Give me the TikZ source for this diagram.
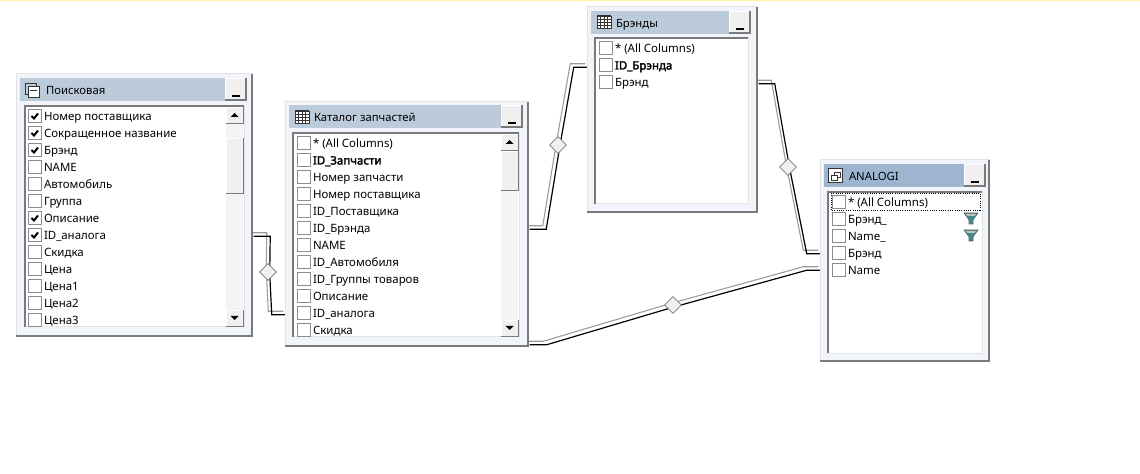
\documentclass[tikz,border=0pt]{standalone}
\usepackage{fontspec}
\setmainfont{Noto Sans}[AutoFakeBold=2.5]
\usetikzlibrary{shapes.geometric}
\usetikzlibrary{backgrounds}
\usetikzlibrary{calc}
\definecolor{panel}{HTML}{F1F5FB}
\definecolor{bandgray}{HTML}{BCCBDA}
\definecolor{bandblue}{HTML}{9DB5D1}
\definecolor{edgedark}{HTML}{7A7A7A}
\definecolor{edgelight}{HTML}{E3E3E3}
\definecolor{face}{HTML}{F0F0F0}
\definecolor{track}{HTML}{F4F4F4}
\definecolor{linegray}{HTML}{9A9A9A}
\definecolor{funnelteal}{HTML}{3E8C8E}
\definecolor{topstrip}{HTML}{FFF2A8}
\tikzstyle{every node}=[inner sep=0pt, outer sep=0pt, anchor=north west]
\tikzstyle{winbox} = [rectangle, fill=panel, draw=edgelight, line width=0.75pt]
\tikzstyle{listbox} = [rectangle, fill=white, draw=edgelight, line width=0.75pt]
\tikzstyle{band} = [rectangle]
\tikzstyle{btn} = [rectangle, fill=face, draw=white, line width=0.5pt]
\tikzstyle{tick} = [rectangle, fill=white, draw=gray!90, line width=0.6pt, minimum width=10.2pt, minimum height=10.2pt]
\tikzstyle{collabel} = [anchor=base west, font=\fontsize{8.6}{10}\selectfont, text=black]
\tikzstyle{titlelabel} = [anchor=base west, font=\fontsize{8.5}{10}\selectfont, text=black]
\tikzstyle{reldiamond} = [diamond, anchor=center, minimum width=12.5pt, minimum height=12.5pt, fill=face, draw=edgedark, line width=0.6pt]
\tikzstyle{raised} = [line width=0.9pt, color=edgedark]
\tikzstyle{sunken} = [line width=1.1pt, color=edgedark]

% rectangle node from corners: name, style, x1, y1, x2, y2
\newcommand{\boxat}[6]{\node[#2, minimum width=((#5)-(#3))*0.75pt, minimum height=((#6)-(#4))*0.75pt] (#1) at ({#3},{#4}) {};}
% window frame
\newcommand{\winframe}[5]{\boxat{#1}{winbox}{#2}{#3}{#4}{#5}
  \draw[line width=1.5pt, color=edgedark] (#1.north east) -- (#1.south east) -- (#1.south west);}
% title band: name, x1, y1, x2, y2, colour, text x, text
\newcommand{\titleband}[8]{\boxat{#1-band}{band, fill=#6}{#2}{#3}{#4}{#5}
  \boxat{#1-btn}{btn}{#4-22}{#3}{#4-1}{#5-1}
  \draw[raised] (#1-btn.north east) -- (#1-btn.south east) -- (#1-btn.south west);
  \draw[line width=1.3pt] ($(#1-btn.south)+(-4,-4)$) -- ++(8,0);
  \node[titlelabel] (#1-title) at (#7,{(#3+#5)/2+5.5}) {#8};}
% sunken list: name, x1, y1, x2, y2
\newcommand{\listframe}[5]{\boxat{#1-list}{listbox}{#2}{#3}{#4}{#5}
  \draw[sunken] (#1-list.south west) -- (#1-list.north west) -- (#1-list.north east);}
% scrollbar: name, x1, y1, x2, y2, thumb top, thumb bottom
\newcommand{\scrollbar}[7]{\boxat{#1-track}{fill=track}{#2}{#3}{#4}{#5}
  \boxat{#1-up}{btn}{#2}{#3}{#4}{#3+16}
  \boxat{#1-down}{btn}{#2}{#5-16}{#4}{#5}
  \boxat{#1-thumb}{btn}{#2}{#6}{#4}{#7}
  \foreach \part in {up,down,thumb}
    \draw[raised, line width=0.7pt] (#1-\part.north east) -- (#1-\part.south east) -- (#1-\part.south west);
  \fill ($(#1-up.center)+(-4,2)$) -- ++(8,0) -- ++(-4,-4) -- cycle;
  \fill ($(#1-down.center)+(-4,-2)$) -- ++(8,0) -- ++(-4,4) -- cycle;}
% rows of columns: name, box x, first row y, list of label/checked
\newcommand{\colrows}[4]{\foreach \lab/\chk [count=\i from 1] in {#4} {
    \node[tick, anchor=center] (#1-tick-\i) at (#2+7,{#3+17*(\i-1)}) {};
    \node[collabel] (#1-col-\i) at (#2+16,{#3+4.5+17*(\i-1)}) {\lab};
    \ifnum\chk=1
      \draw[line width=1.5pt] ($(#1-tick-\i.center)+(-3.5,0)$) -- ++(2.5,2.5) -- ++(4,-5);
    \fi
  }}
% table icon with grid
\newcommand{\gridicon}[3]{\node[rectangle, fill=white, draw=black!80, line width=0.7pt, minimum width=10.5pt, minimum height=9pt] (#1) at (#2,#3) {};
  \foreach \k in {3.5,7,10.5} \draw[black!80, line width=0.5pt] ($(#1.north west)+(\k,0)$) -- ++(0,12);
  \foreach \k in {3,6,9} \draw[black!80, line width=0.5pt] ($(#1.north west)+(0,\k)$) -- ++(14,0);
  \draw[black!80, line width=1pt] (#1.north west) -- (#1.north east);}
% filter icon
\newcommand{\funnel}[3]{\coordinate (#1) at (#2,#3);
  \fill[funnelteal, draw=black!60, line width=0.4pt] ($(#1)+(-7,-5)$) -- ++(14,0) -- ++(-5,7) -- ++(0,4) -- ++(-4,0) -- ++(0,-4) -- cycle;
  \fill[black!25] ($(#1)+(-5,-4)$) -- ++(10,0) -- ++(-1.5,2) -- ++(-7,0) -- cycle;}
% two-tone relation line
\newcommand{\relline}[1]{\draw[linegray, line width=0.8pt, transform canvas={xshift=-1.3pt, yshift=1.3pt}] #1;
  \draw[black, line width=0.9pt, transform canvas={xshift=1.3pt, yshift=-1.3pt}] #1;}

\begin{document}
\begin{tikzpicture}[x=0.75pt, y=-0.75pt]
\useasboundingbox (0,0) rectangle (1140,474);

\boxat{strip}{fill=topstrip}{0}{0}{1140}{1.5}

% Poiskovaya
\winframe{search}{16}{74}{252}{336}
\titleband{search}{20}{78}{247}{101}{bandgray}{46}{Поисковая}
\listframe{search}{25}{106}{244}{327}
\scrollbar{search}{226}{107}{243}{326}{138}{193}
\colrows{search}{28}{116}{Номер поставщика/1, Сокращенное название/1, Брэнд/1, NAME/0, Автомобиль/0, Группа/0, Описание/1, ID\_аналога/1, Скидка/0, Цена/0, Цена1/0, Цена2/0, Цена3/0}
\draw[draw=black!80, line width=0.7pt] (25,83) rectangle (36,94);
\draw[fill=white, draw=black!80, line width=0.7pt] (28,86) rectangle (39,97);
\draw[draw=black!80, line width=0.7pt] (30,90) -- (37,90);

% Katalog
\winframe{catalog}{285}{102}{528}{346}
\titleband{catalog}{289}{105}{523}{128}{bandgray}{314}{Каталог запчастей}
\listframe{catalog}{293}{133}{519}{337}
\scrollbar{catalog}{501}{134}{518}{336}{151}{190}
\colrows{catalog}{297}{143}{* (All Columns)/0, \textbf{ID\_Запчасти}/0, Номер запчасти/0, Номер поставщика/0, ID\_Поставщика/0, ID\_Брэнда/0, NAME/0, ID\_Автомобиля/0, ID\_Группы товаров/0, Описание/0, ID\_аналога/0, Скидка/0}
\gridicon{catalog-icon}{295}{111}

% Brendy
\winframe{brands}{587}{7}{757}{212}
\titleband{brands}{591}{11}{751}{34}{bandgray}{616}{Брэнды}
\listframe{brands}{595}{38}{748}{204}
\colrows{brands}{599}{48}{* (All Columns)/0, \textbf{ID\_Брэнда}/0, Брэнд/0}
\gridicon{brands-icon}{597}{16}

% Analogi
\winframe{analogi}{820}{160}{989}{361}
\titleband{analogi}{824}{164}{986}{187}{bandblue}{849}{ANALOGI}
\listframe{analogi}{828}{192}{982}{353}
\draw[black, densely dotted, line width=0.7pt] (831,193) rectangle (980,210);
\colrows{analogi}{832}{202}{* (All Columns)/0, Брэнд\_/0, Name\_/0, Брэнд/0, Name/0}
\funnel{filter-a}{971}{218}
\funnel{filter-b}{971}{235}
\node[rectangle, fill=white, draw=black!80, line width=0.7pt, minimum width=11pt, minimum height=10.5pt] (analogi-icon) at (828,168) {};
\draw[draw=black!80, line width=0.7pt] (834,172) rectangle (840,177);
\draw[fill=white, draw=black!80, line width=0.7pt] (831,175) rectangle (837,180);

% relations
\node[reldiamond] (link-a) at (268,272) {};
\node[reldiamond] (link-b) at (558,145) {};
\node[reldiamond] (link-c) at (788,167) {};
\node[reldiamond] (link-d) at (673,305) {};

\coordinate (a-out) at (search.east |- 0,234.5);
\coordinate (a-bend) at (268.5,234.5);
\coordinate (a-low) at (270,313);
\coordinate (a-in) at (catalog.west |- 0,313);
\coordinate (b-out) at (catalog.east |- 0,227.5);
\coordinate (b-bend) at (544.5,227.5);
\coordinate (b-high) at (572,65.5);
\coordinate (b-in) at (brands.west |- 0,65.5);
\coordinate (c-out) at (brands.east |- 0,82);
\coordinate (c-bend) at (773,82);
\coordinate (c-low) at (805,252);
\coordinate (c-in) at (analogi.west |- 0,252);
\coordinate (d-out) at (catalog.east |- 0,343);
\coordinate (d-bend) at (545,343);
\coordinate (d-high) at (805,268.5);
\coordinate (d-in) at (analogi.west |- 0,268.5);

\begin{scope}[on background layer]
\relline{(a-out) -- (a-bend) -- (link-a.center) -- (a-low) -- (a-in)}
\relline{(b-out) -- (b-bend) -- (link-b.center) -- (b-high) -- (b-in)}
\relline{(c-out) -- (c-bend) -- (link-c.center) -- (c-low) -- (c-in)}
\relline{(d-out) -- (d-bend) -- (link-d.center) -- (d-high) -- (d-in)}
\end{scope}

\end{tikzpicture}
\end{document}
